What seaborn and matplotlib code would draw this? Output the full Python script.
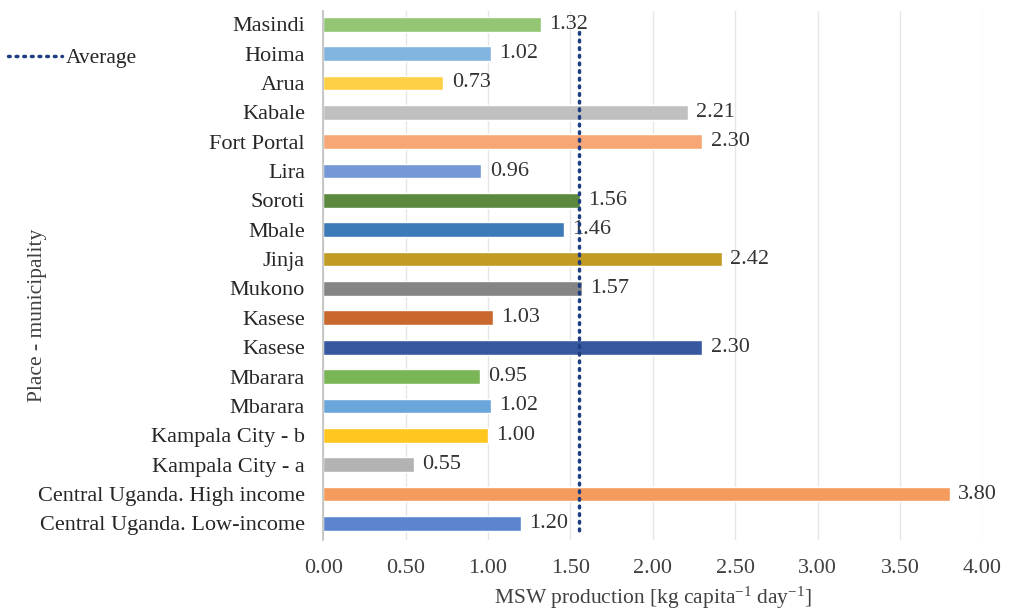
import matplotlib
matplotlib.use("Agg")
import matplotlib.pyplot as plt
import seaborn as sns
import pandas as pd
from matplotlib.lines import Line2D

places = [
    "Masindi", "Hoima", "Arua", "Kabale", "Fort Portal", "Lira", "Soroti",
    "Mbale", "Jinja", "Mukono", "Kasese", "Kasese", "Mbarara", "Mbarara",
    "Kampala City - b", "Kampala City - a", "Central Uganda. High income",
    "Central Uganda. Low-income",
]
msw = [1.32, 1.02, 0.73, 2.21, 2.30, 0.96, 1.56, 1.46, 2.42, 1.57, 1.03,
       2.30, 0.95, 1.02, 1.00, 0.55, 3.80, 1.20]
bar_colors = [
    "#93c572", "#82b4e0", "#ffcf45", "#c0c0c0", "#f7a775", "#7698d6",
    "#5b8a3e", "#3d7ab8", "#c29b24", "#858585", "#c8682e", "#37589f",
    "#7ab556", "#6aa5db", "#ffc71f", "#b3b3b3", "#f69b5e", "#5d84cf",
]
average = 1.55
x_ticks = [0.0, 0.5, 1.0, 1.5, 2.0, 2.5, 3.0, 3.5, 4.0]

sns.set_theme(style="white")
plt.rcParams["font.family"] = ["Liberation Serif", "DejaVu Serif"]
plt.rcParams["mathtext.fontset"] = "custom"
plt.rcParams["mathtext.rm"] = "Liberation Serif"
plt.rcParams["mathtext.it"] = "Liberation Serif:italic"

FS = 16

df = pd.DataFrame({
    "key": [f"k{i}" for i in range(len(places))],
    "place": places,
    "msw": msw,
})

fig = plt.figure(figsize=(10.13, 6.11), dpi=100)
ax = fig.add_axes([0.319, 0.117, 0.651, 0.865])

sns.barplot(data=df, y="key", x="msw", hue="key", palette=bar_colors,
            orient="h", width=0.5, legend=False, ax=ax, saturation=1)

ax.set_xlim(0, 4.0)
ax.set_ylim(17.55, -0.45)
ax.set_xticks(x_ticks)
ax.set_xticklabels([f"{t:.2f}" for t in x_ticks], fontsize=FS, color="#404040")
ax.set_yticks(range(len(places)))
ax.set_yticklabels(places, fontsize=FS, color="#262626")
ax.tick_params(axis="y", length=0, pad=13)
ax.tick_params(axis="x", length=0, pad=14)

ax.grid(axis="x", color="#e6e6e6", linewidth=1)
ax.set_axisbelow(True)
for side in ["top", "right", "bottom"]:
    ax.spines[side].set_visible(False)
ax.spines["left"].set_color("#bfbfbf")
ax.spines["left"].set_linewidth(1.2)

for i, v in enumerate(msw):
    ax.text(v + 0.05, i, f"{v:.2f}", va="center", ha="left",
            fontsize=FS, color="#333333")

dots = (0, (0.5, 1.7))
ax.plot([average, average], [0.27, 17.3], linestyle=dots,
        color="#1f3d82", linewidth=2.5, dash_capstyle="round", zorder=5)

ax.set_xlabel(r"MSW production [kg capita$^{\mathregular{-1}}$ day$^{\mathregular{-1}}$]",
              fontsize=15.5, color="#404040")
ax.xaxis.set_label_coords(0.5, -0.086)
ax.set_ylabel("Place - municipality", fontsize=15.5, color="#404040")
ax.yaxis.set_label_coords(-0.419, 0.425)

handle = Line2D([0], [0], linestyle=dots, color="#1f3d82",
                linewidth=2.5, dash_capstyle="round")
fig.legend([handle], ["Average"], loc="center left",
           bbox_to_anchor=(0.008, 0.905), frameon=False, fontsize=15.5,
           handlelength=2.5, handletextpad=0.2, borderpad=0,
           borderaxespad=0)

fig.savefig("out.png", dpi=100)
